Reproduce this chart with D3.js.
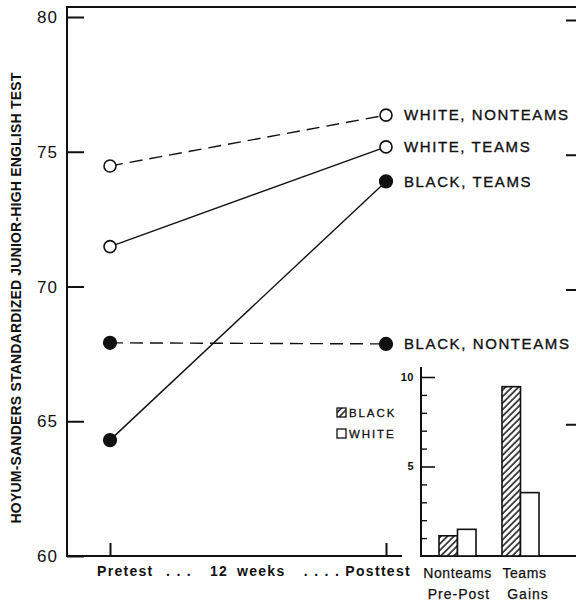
<!DOCTYPE html>
<html><head><meta charset="utf-8">
<script src="https://cdn.jsdelivr.net/npm/d3@7"></script>
<style>body{margin:0;background:#fff}svg{display:block}text{font-family:"Liberation Sans",Arial,sans-serif;fill:#111}</style>
</head><body>
<svg id="c" width="576" height="604"></svg>
<script>
// ---- data ----
const phases = ["Pretest","Posttest"];
const seriesNames = ["WHITE, NONTEAMS","WHITE, TEAMS","BLACK, TEAMS","BLACK, NONTEAMS"];
const seriesRace = ["White","White","Black","Black"];
const seriesGroup = ["Nonteams","Teams","Teams","Nonteams"];
const pretestValues = [74.47, 71.48, 64.3, 67.91];
const posttestValues = [76.36, 75.18, 73.9, 67.87];
const yTicks = [60,65,70,75,80];

const gainGroups = ["Nonteams","Teams"];
const gainRaces = ["Black","White"];
const blackGains = [1.13, 9.46];
const whiteGains = [1.49, 3.54];
const gainMajorTicks = [5,10];
const gainMinorTicks = [1,2,3,4,6,7,8,9];

const svg = d3.select("#c");
const ink = "#111";

// pattern
const defs = svg.append("defs");
const pat = defs.append("pattern").attr("id","hatch").attr("patternUnits","userSpaceOnUse")
  .attr("width",4.6).attr("height",4.6).attr("patternTransform","rotate(45)");
pat.append("rect").attr("width",4.6).attr("height",4.6).attr("fill","#fff");
pat.append("line").attr("x1",1).attr("y1",0).attr("x2",1).attr("y2",4.6).attr("stroke",ink).attr("stroke-width",1.5);

// ---- main scales ----
const y = d3.scaleLinear().domain([60,80]).range([556,17]);
const x = d3.scalePoint().domain(phases).range([110,386]);

// frame: left axis and top line
svg.append("line").attr("x1",67).attr("x2",67).attr("y1",6).attr("y2",557).attr("stroke",ink).attr("stroke-width",2);
svg.append("line").attr("x1",66).attr("x2",576).attr("y1",7).attr("y2",7).attr("stroke",ink).attr("stroke-width",2);
svg.append("line").attr("x1",66).attr("x2",402).attr("y1",556).attr("y2",556).attr("stroke",ink).attr("stroke-width",2);

// left axis ticks
const yAxis = svg.append("g").attr("transform","translate(67,0)")
  .call(d3.axisRight(y).tickValues(yTicks).tickSize(17).tickFormat(""));
yAxis.select(".domain").remove();
yAxis.selectAll("line").attr("stroke",ink).attr("stroke-width",2);
svg.selectAll(".ylab").data(yTicks).join("text").attr("class","ylab")
  .attr("x",58).attr("y",d=>y(d)).attr("dy","0.36em").attr("text-anchor","end")
  .attr("font-size",17).attr("letter-spacing",1).text(d=>d);
// right-edge ticks (cut-off right axis)
const rAxis = svg.append("g").attr("transform","translate(576,3)")
  .call(d3.axisLeft(y).tickValues([65,70,75,80]).tickSize(10).tickFormat(""));
rAxis.select(".domain").remove();
rAxis.selectAll("line").attr("stroke",ink).attr("stroke-width",2);

// x ticks
const xAxis = svg.append("g").attr("transform","translate(0,556)")
  .call(d3.axisTop(x).tickSize(13).tickFormat(""));
xAxis.select(".domain").remove();
xAxis.selectAll("line").attr("stroke",ink).attr("stroke-width",2);

// x labels
const xl = [["Pretest",97,"start"],[". .  .",166,"start"],["12",210,"start"],["weeks",237,"start"],[". . . . Posttest",411,"end"]];
svg.selectAll(".xlab").data(xl).join("text").attr("class","xlab")
  .attr("x",d=>d[1]).attr("y",576).attr("text-anchor",d=>d[2])
  .attr("font-size",14).attr("font-weight","bold").attr("letter-spacing",1.3).text(d=>d[0]);

// y title
svg.append("text").attr("transform","translate(21,298) rotate(-90)").attr("text-anchor","middle")
  .attr("font-size",14).attr("font-weight","bold").attr("letter-spacing",0.2)
  .text("HOYUM-SANDERS STANDARDIZED JUNIOR-HIGH ENGLISH TEST");

// series lines
const rows = seriesNames.map((n,i)=>({name:n, race:seriesRace[i], group:seriesGroup[i],
  vals:[{p:phases[0],v:pretestValues[i]},{p:phases[1],v:posttestValues[i]}]}));
const line = d3.line().x(d=>x(d.p)).y(d=>y(d.v));
svg.selectAll(".sline").data(rows).join("path").attr("class","sline")
  .attr("d",d=>line(d.vals)).attr("fill","none").attr("stroke",ink).attr("stroke-width",1.4)
  .attr("stroke-dasharray",d=>d.group==="Nonteams"?"13,7":null);
rows.forEach(r=>{
  svg.selectAll(null).data(r.vals).join("circle")
    .attr("cx",d=>x(d.p)).attr("cy",d=>y(d.v)).attr("r",r.race==="White"?6:6.3)
    .attr("fill",r.race==="White"?"#fff":ink).attr("stroke",ink).attr("stroke-width",1.6);
});
svg.selectAll(".slab").data(rows).join("text").attr("class","slab")
  .attr("x",404).attr("y",d=>y(d.vals[1].v)).attr("dy","0.36em")
  .attr("font-size",15).attr("letter-spacing",1.6).attr("stroke",ink).attr("stroke-width",0.35)
  .text(d=>d.name);

// ---- inset bar chart ----
const yi = d3.scaleLinear().domain([0,10]).range([556,377]);
const xg = d3.scaleBand().domain(gainGroups).range([407.5,570.5]).paddingInner(26/63).paddingOuter(0.5);
const xs = d3.scaleBand().domain(gainRaces).range([0,xg.bandwidth()]);

svg.append("line").attr("x1",421).attr("x2",421).attr("y1",367).attr("y2",557).attr("stroke",ink).attr("stroke-width",2);
svg.append("line").attr("x1",420).attr("x2",576).attr("y1",556).attr("y2",556).attr("stroke",ink).attr("stroke-width",2);
const iMaj = svg.append("g").attr("transform","translate(421,0)")
  .call(d3.axisRight(yi).tickValues(gainMajorTicks).tickSize(14).tickFormat(""));
iMaj.select(".domain").remove();
iMaj.selectAll("line").attr("stroke",ink).attr("stroke-width",1.6);
const iMin = svg.append("g").attr("transform","translate(421,0)")
  .call(d3.axisRight(yi).tickValues(gainMinorTicks).tickSize(6).tickFormat(""));
iMin.select(".domain").remove();
iMin.selectAll("line").attr("stroke",ink).attr("stroke-width",1.4);
svg.selectAll(".ilab").data(gainMajorTicks).join("text").attr("class","ilab")
  .attr("x",414).attr("y",d=>yi(d)).attr("dy","0.36em").attr("text-anchor","end")
  .attr("font-size",11).attr("font-weight","bold").attr("letter-spacing",0.5).text(d=>d);

const bars = [];
gainGroups.forEach((g,i)=>{
  bars.push({g, r:"Black", v:blackGains[i]});
  bars.push({g, r:"White", v:whiteGains[i]});
});
svg.selectAll(".bar").data(bars).join("rect").attr("class","bar")
  .attr("x",d=>xg(d.g)+xs(d.r)).attr("width",xs.bandwidth())
  .attr("y",d=>yi(d.v)).attr("height",d=>yi(0)-yi(d.v))
  .attr("fill",d=>d.r==="Black"?"url(#hatch)":"#fff").attr("stroke",ink).attr("stroke-width",1.6);

// legend
const leg = [{r:"Black",t:"BLACK",y:408},{r:"White",t:"WHITE",y:429}];
svg.selectAll(".lsq").data(leg).join("rect").attr("class","lsq")
  .attr("x",337).attr("y",d=>d.y).attr("width",9).attr("height",9)
  .attr("fill",d=>d.r==="Black"?"url(#hatch)":"#fff").attr("stroke",ink).attr("stroke-width",1.3);
svg.selectAll(".ltx").data(leg).join("text").attr("class","ltx")
  .attr("x",349).attr("y",d=>d.y+9).attr("font-size",11.5)
  .attr("stroke",ink).attr("stroke-width",0.3)
  .attr("letter-spacing",1.9).text(d=>d.t);

// inset labels
svg.selectAll(".glab").data(gainGroups).join("text").attr("class","glab")
  .attr("x",d=>xg(d)+xg.bandwidth()/2 + (d==="Teams"?4:0)).attr("y",578).attr("text-anchor","middle")
  .attr("font-size",14).attr("letter-spacing",0.6).attr("stroke",ink).attr("stroke-width",0.25).text(d=>d);
svg.append("text").attr("x",459).attr("y",599).attr("text-anchor","middle")
  .attr("font-size",14).attr("letter-spacing",1).attr("stroke",ink).attr("stroke-width",0.25).text("Pre-Post");
svg.append("text").attr("x",528).attr("y",599).attr("text-anchor","middle")
  .attr("font-size",14).attr("letter-spacing",1).attr("stroke",ink).attr("stroke-width",0.25).text("Gains");
</script>
</body></html>
